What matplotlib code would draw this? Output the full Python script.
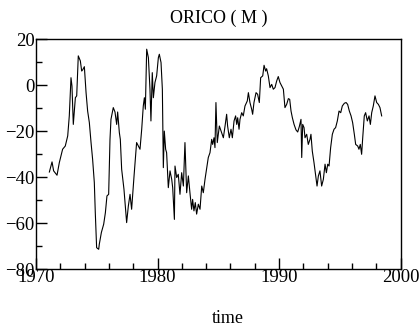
import matplotlib
matplotlib.use("Agg")
import matplotlib.pyplot as plt
from matplotlib.ticker import MultipleLocator

time = [
    1971.10, 1971.32, 1971.45, 1971.73, 1971.92, 1972.19, 1972.41, 1972.61, 1972.74, 1972.88,
    1972.96, 1973.07, 1973.24, 1973.35, 1973.48, 1973.65, 1973.76, 1973.84, 1973.98, 1974.12,
    1974.25, 1974.39, 1974.53, 1974.66, 1974.80, 1974.88, 1974.99, 1975.16, 1975.21, 1975.38,
    1975.57, 1975.71, 1975.84, 1975.98, 1976.09, 1976.17, 1976.36, 1976.50, 1976.64, 1976.72,
    1976.86, 1976.94, 1977.05, 1977.24, 1977.46, 1977.60, 1977.74, 1977.87, 1978.07, 1978.28,
    1978.42, 1978.56, 1978.70, 1978.83, 1978.92, 1979.00, 1979.11, 1979.25, 1979.38, 1979.46,
    1979.57, 1979.66, 1979.79, 1979.93, 1980.07, 1980.15, 1980.29, 1980.40, 1980.48, 1980.56,
    1980.67, 1980.75, 1980.89, 1981.03, 1981.17, 1981.25, 1981.39, 1981.44, 1981.58, 1981.71,
    1981.85, 1981.99, 1982.13, 1982.26, 1982.40, 1982.54, 1982.67, 1982.81, 1982.89, 1983.00,
    1983.11, 1983.22, 1983.36, 1983.50, 1983.64, 1983.77, 1983.91, 1984.05, 1984.18, 1984.32,
    1984.46, 1984.54, 1984.65, 1984.73, 1984.81, 1984.92, 1985.09, 1985.23, 1985.42, 1985.56,
    1985.69, 1985.77, 1985.91, 1986.05, 1986.16, 1986.30, 1986.43, 1986.52, 1986.60, 1986.71,
    1986.79, 1986.93, 1987.06, 1987.20, 1987.39, 1987.48, 1987.61, 1987.75, 1987.83, 1987.94,
    1988.11, 1988.24, 1988.38, 1988.49, 1988.66, 1988.77, 1988.90, 1988.98, 1989.12, 1989.26,
    1989.40, 1989.53, 1989.67, 1989.81, 1989.94, 1990.08, 1990.22, 1990.36, 1990.49, 1990.63,
    1990.77, 1990.88, 1990.99, 1991.10, 1991.24, 1991.40, 1991.54, 1991.67, 1991.81, 1991.87,
    1991.95, 1992.06, 1992.14, 1992.28, 1992.41, 1992.55, 1992.63, 1992.74, 1992.88, 1993.02,
    1993.13, 1993.24, 1993.37, 1993.51, 1993.65, 1993.79, 1993.90, 1994.01, 1994.12, 1994.25,
    1994.39, 1994.53, 1994.66, 1994.80, 1994.94, 1995.08, 1995.21, 1995.38, 1995.52, 1995.65,
    1995.79, 1995.93, 1996.06, 1996.20, 1996.31, 1996.48, 1996.58, 1996.69, 1996.80, 1996.89,
    1997.02, 1997.13, 1997.27, 1997.41, 1997.52, 1997.63, 1997.76, 1997.90, 1998.04, 1998.18,
    1998.31, 1998.45,
]

orico = [
    -37.7, -33.3, -37.2, -39.1, -33.6, -27.8, -26.4, -22.0, -13.3, 3.3,
    -0.3, -17.0, -5.4, -4.6, 12.8, 10.6, 6.2, 6.7, 8.1, -3.2,
    -11.2, -16.2, -24.9, -32.2, -42.3, -55.4, -70.6, -71.3, -69.1, -64.0,
    -60.4, -55.4, -48.1, -47.4, -23.5, -14.8, -9.7, -11.6, -17.0, -11.6,
    -20.6, -23.5, -36.5, -45.2, -59.7, -52.5, -47.4, -53.9, -39.4, -24.9,
    -26.4, -27.8, -19.1, -9.0, -5.4, -10.4, 15.7, 12.0, -1.7, -15.5,
    5.5, -5.4, 1.2, 4.1, 12.0, 13.5, 9.9, -1.7, -35.8, -19.9,
    -27.8, -29.3, -44.5, -37.2, -40.9, -44.5, -58.3, -35.1, -40.1, -38.7,
    -47.4, -38.0, -43.8, -24.9, -46.7, -39.4, -46.7, -53.9, -49.6, -54.6,
    -51.0, -56.0, -51.7, -53.9, -43.8, -46.7, -40.9, -35.8, -31.4, -29.3,
    -23.5, -25.7, -22.8, -27.1, -7.5, -24.9, -17.7, -19.9, -22.8, -17.7,
    -12.6, -17.7, -22.8, -19.1, -22.8, -15.5, -13.3, -17.0, -14.1, -19.1,
    -14.8, -11.9, -13.3, -9.0, -6.8, -3.2, -7.5, -10.4, -12.6, -7.5,
    -3.2, -3.9, -7.5, 3.3, 4.1, 8.7, 6.2, 7.2, 4.1, -1.0,
    0.4, -1.7, -1.0, 1.9, 3.8, 1.2, -0.3, -1.7, -9.7, -8.3,
    -5.8, -6.1, -11.2, -14.1, -17.0, -19.4, -20.3, -18.0, -14.8, -31.4,
    -17.0, -18.4, -22.8, -21.3, -25.7, -23.5, -21.3, -28.6, -33.6, -39.4,
    -43.8, -39.4, -37.2, -43.8, -40.9, -34.3, -38.0, -34.3, -35.1, -27.1,
    -21.3, -19.1, -18.4, -15.5, -11.2, -11.9, -9.0, -7.8, -7.5, -8.3,
    -11.2, -13.3, -16.2, -21.3, -25.7, -26.4, -27.8, -25.7, -30.0, -22.8,
    -13.3, -11.9, -15.5, -13.3, -17.0, -11.9, -9.0, -4.6, -7.5, -8.3,
    -9.7, -13.3,
]

x_ticks = [1970, 1980, 1990, 2000]
y_ticks = [-80, -60, -40, -20, 0, 20]

plt.rcParams['font.family'] = ['Liberation Serif', 'DejaVu Serif']

fig = plt.figure(figsize=(4.2, 3.3), dpi=100)
ax = fig.add_axes([36/420, 1 - 269.3/330, (400.5 - 36)/420, (269.3 - 39.3)/330])
ax.plot(time, orico, color='black', linewidth=0.8)
ax.set_xlim(1970, 2000)
ax.set_ylim(-80, 20)
ax.set_xticks(x_ticks)
ax.set_yticks(y_ticks)
ax.xaxis.set_minor_locator(MultipleLocator(2))
ax.yaxis.set_minor_locator(MultipleLocator(10))
ax.tick_params(which='both', direction='in', top=False, right=False, labelsize=13.5, width=1)
ax.tick_params(axis='x', which='major', length=8, pad=0)
ax.tick_params(axis='y', which='major', length=8, pad=1)
ax.tick_params(which='minor', length=4)
for s in ax.spines.values():
    s.set_linewidth(1)
ax.set_title('ORICO ( M )', fontsize=13, pad=12)
ax.set_xlabel('time', fontsize=13)
ax.xaxis.set_label_coords(0.525, -0.175)
fig.savefig('out.png', dpi=100)
